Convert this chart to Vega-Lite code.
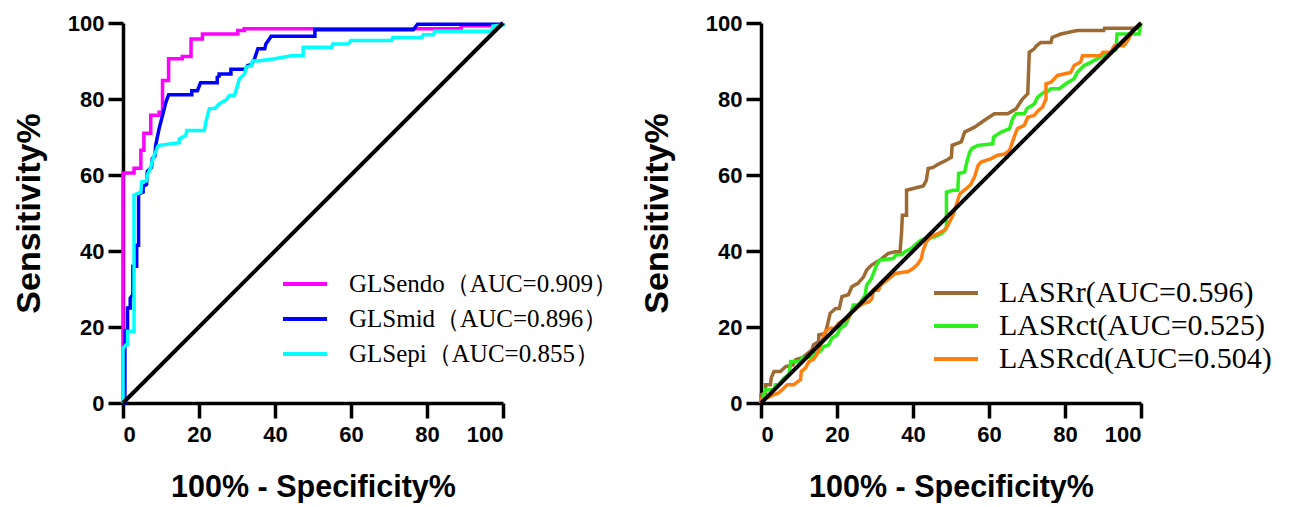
{
  "$schema": "https://vega.github.io/schema/vega-lite/v6.json",
  "background": "white",
  "padding": {"left": 12, "top": 12, "right": 0, "bottom": 0},
  "datasets": {
    "left": [
      {"s":"GLSendo（AUC=0.909）","x":0,"y":0},{"s":"GLSendo（AUC=0.909）","x":0,"y":60.5},{"s":"GLSendo（AUC=0.909）","x":2.9,"y":60.5},{"s":"GLSendo（AUC=0.909）","x":2.9,"y":61.8},{"s":"GLSendo（AUC=0.909）","x":4.7,"y":61.8},{"s":"GLSendo（AUC=0.909）","x":4.7,"y":66.5},{"s":"GLSendo（AUC=0.909）","x":5.5,"y":66.5},{"s":"GLSendo（AUC=0.909）","x":5.5,"y":71},{"s":"GLSendo（AUC=0.909）","x":7.3,"y":71},{"s":"GLSendo（AUC=0.909）","x":7.3,"y":75.7},{"s":"GLSendo（AUC=0.909）","x":9.5,"y":75.7},{"s":"GLSendo（AUC=0.909）","x":9.5,"y":76.5},{"s":"GLSendo（AUC=0.909）","x":10.4,"y":76.5},{"s":"GLSendo（AUC=0.909）","x":10.4,"y":84.9},{"s":"GLSendo（AUC=0.909）","x":12,"y":84.9},{"s":"GLSendo（AUC=0.909）","x":12,"y":90.6},{"s":"GLSendo（AUC=0.909）","x":15.6,"y":90.6},{"s":"GLSendo（AUC=0.909）","x":15.6,"y":91.2},{"s":"GLSendo（AUC=0.909）","x":17.9,"y":91.2},{"s":"GLSendo（AUC=0.909）","x":17.9,"y":95.8},{"s":"GLSendo（AUC=0.909）","x":20.9,"y":95.8},{"s":"GLSendo（AUC=0.909）","x":20.9,"y":97.1},{"s":"GLSendo（AUC=0.909）","x":30.2,"y":97.1},{"s":"GLSendo（AUC=0.909）","x":30.2,"y":98},{"s":"GLSendo（AUC=0.909）","x":31.9,"y":98},{"s":"GLSendo（AUC=0.909）","x":31.9,"y":98.5},{"s":"GLSendo（AUC=0.909）","x":89,"y":98.5},{"s":"GLSendo（AUC=0.909）","x":89,"y":99.3},{"s":"GLSendo（AUC=0.909）","x":99,"y":99.3},{"s":"GLSendo（AUC=0.909）","x":100,"y":100},
      {"s":"GLSmid（AUC=0.896）","x":0,"y":0},{"s":"GLSmid（AUC=0.896）","x":0.5,"y":0},{"s":"GLSmid（AUC=0.896）","x":0.5,"y":19},{"s":"GLSmid（AUC=0.896）","x":1.2,"y":19},{"s":"GLSmid（AUC=0.896）","x":1.2,"y":25},{"s":"GLSmid（AUC=0.896）","x":1.9,"y":25},{"s":"GLSmid（AUC=0.896）","x":1.9,"y":27.6},{"s":"GLSmid（AUC=0.896）","x":2.6,"y":28.5},{"s":"GLSmid（AUC=0.896）","x":2.6,"y":36},{"s":"GLSmid（AUC=0.896）","x":3.6,"y":36},{"s":"GLSmid（AUC=0.896）","x":3.6,"y":41.5},{"s":"GLSmid（AUC=0.896）","x":4.1,"y":41.5},{"s":"GLSmid（AUC=0.896）","x":4.1,"y":55},{"s":"GLSmid（AUC=0.896）","x":5.3,"y":55.5},{"s":"GLSmid（AUC=0.896）","x":5.3,"y":57},{"s":"GLSmid（AUC=0.896）","x":6.2,"y":57.5},{"s":"GLSmid（AUC=0.896）","x":6.4,"y":61},{"s":"GLSmid（AUC=0.896）","x":7.5,"y":62},{"s":"GLSmid（AUC=0.896）","x":7.7,"y":64.3},{"s":"GLSmid（AUC=0.896）","x":8.4,"y":65},{"s":"GLSmid（AUC=0.896）","x":8.6,"y":67.8},{"s":"GLSmid（AUC=0.896）","x":9.5,"y":72.2},{"s":"GLSmid（AUC=0.896）","x":10.4,"y":75.7},{"s":"GLSmid（AUC=0.896）","x":11.3,"y":79.2},{"s":"GLSmid（AUC=0.896）","x":12,"y":81.1},{"s":"GLSmid（AUC=0.896）","x":18.1,"y":81.1},{"s":"GLSmid（AUC=0.896）","x":18.1,"y":82.2},{"s":"GLSmid（AUC=0.896）","x":19.6,"y":82.2},{"s":"GLSmid（AUC=0.896）","x":20.4,"y":84.3},{"s":"GLSmid（AUC=0.896）","x":24.8,"y":84.3},{"s":"GLSmid（AUC=0.896）","x":24.8,"y":85.7},{"s":"GLSmid（AUC=0.896）","x":25.3,"y":86},{"s":"GLSmid（AUC=0.896）","x":25.3,"y":86.6},{"s":"GLSmid（AUC=0.896）","x":28.4,"y":86.6},{"s":"GLSmid（AUC=0.896）","x":28.4,"y":87.8},{"s":"GLSmid（AUC=0.896）","x":32.2,"y":87.8},{"s":"GLSmid（AUC=0.896）","x":32.8,"y":88.8},{"s":"GLSmid（AUC=0.896）","x":33.8,"y":89},{"s":"GLSmid（AUC=0.896）","x":34.6,"y":90.6},{"s":"GLSmid（AUC=0.896）","x":35.5,"y":93.2},{"s":"GLSmid（AUC=0.896）","x":37.3,"y":93.2},{"s":"GLSmid（AUC=0.896）","x":37.6,"y":94.5},{"s":"GLSmid（AUC=0.896）","x":39,"y":96.5},{"s":"GLSmid（AUC=0.896）","x":50.5,"y":96.5},{"s":"GLSmid（AUC=0.896）","x":50.5,"y":98.2},{"s":"GLSmid（AUC=0.896）","x":76.4,"y":98.2},{"s":"GLSmid（AUC=0.896）","x":77.5,"y":99.7},{"s":"GLSmid（AUC=0.896）","x":100,"y":99.7},{"s":"GLSmid（AUC=0.896）","x":100,"y":100},
      {"s":"GLSepi（AUC=0.855）","x":0,"y":0},{"s":"GLSepi（AUC=0.855）","x":0,"y":14.4},{"s":"GLSepi（AUC=0.855）","x":0.8,"y":15.3},{"s":"GLSepi（AUC=0.855）","x":1.2,"y":15.3},{"s":"GLSepi（AUC=0.855）","x":1.2,"y":18.9},{"s":"GLSepi（AUC=0.855）","x":2.9,"y":18.9},{"s":"GLSepi（AUC=0.855）","x":2.9,"y":54.7},{"s":"GLSepi（AUC=0.855）","x":4.7,"y":55.5},{"s":"GLSepi（AUC=0.855）","x":4.9,"y":58.2},{"s":"GLSepi（AUC=0.855）","x":6.2,"y":58.5},{"s":"GLSepi（AUC=0.855）","x":6.4,"y":60},{"s":"GLSepi（AUC=0.855）","x":7.3,"y":62},{"s":"GLSepi（AUC=0.855）","x":7.5,"y":63},{"s":"GLSepi（AUC=0.855）","x":8.2,"y":65.2},{"s":"GLSepi（AUC=0.855）","x":8.6,"y":66},{"s":"GLSepi（AUC=0.855）","x":9.1,"y":67.5},{"s":"GLSepi（AUC=0.855）","x":9.5,"y":67.8},{"s":"GLSepi（AUC=0.855）","x":14.8,"y":68.5},{"s":"GLSepi（AUC=0.855）","x":14.8,"y":69.5},{"s":"GLSepi（AUC=0.855）","x":16.5,"y":70.4},{"s":"GLSepi（AUC=0.855）","x":16.8,"y":71.7},{"s":"GLSepi（AUC=0.855）","x":21.4,"y":71.7},{"s":"GLSepi（AUC=0.855）","x":21.8,"y":73.9},{"s":"GLSepi（AUC=0.855）","x":22.7,"y":77.4},{"s":"GLSepi（AUC=0.855）","x":24.3,"y":77.6},{"s":"GLSepi（AUC=0.855）","x":25.3,"y":78.7},{"s":"GLSepi（AUC=0.855）","x":27.2,"y":79.8},{"s":"GLSepi（AUC=0.855）","x":28,"y":80.9},{"s":"GLSepi（AUC=0.855）","x":29.3,"y":80.9},{"s":"GLSepi（AUC=0.855）","x":30,"y":83},{"s":"GLSepi（AUC=0.855）","x":30.6,"y":85.3},{"s":"GLSepi（AUC=0.855）","x":32,"y":86.6},{"s":"GLSepi（AUC=0.855）","x":32.4,"y":88.4},{"s":"GLSepi（AUC=0.855）","x":33.8,"y":88.8},{"s":"GLSepi（AUC=0.855）","x":34.1,"y":90.1},{"s":"GLSepi（AUC=0.855）","x":35.5,"y":90},{"s":"GLSepi（AUC=0.855）","x":39.9,"y":90.6},{"s":"GLSepi（AUC=0.855）","x":44.3,"y":91.4},{"s":"GLSepi（AUC=0.855）","x":47.4,"y":91.4},{"s":"GLSepi（AUC=0.855）","x":47.4,"y":93.6},{"s":"GLSepi（AUC=0.855）","x":54.9,"y":93.6},{"s":"GLSepi（AUC=0.855）","x":55.2,"y":94.5},{"s":"GLSepi（AUC=0.855）","x":59.3,"y":94.5},{"s":"GLSepi（AUC=0.855）","x":60,"y":95.4},{"s":"GLSepi（AUC=0.855）","x":70.7,"y":95.4},{"s":"GLSepi（AUC=0.855）","x":71,"y":96.2},{"s":"GLSepi（AUC=0.855）","x":78.6,"y":96.2},{"s":"GLSepi（AUC=0.855）","x":79,"y":96.9},{"s":"GLSepi（AUC=0.855）","x":81.7,"y":96.9},{"s":"GLSepi（AUC=0.855）","x":82,"y":97.8},{"s":"GLSepi（AUC=0.855）","x":97.1,"y":97.8},{"s":"GLSepi（AUC=0.855）","x":97.3,"y":99.2},{"s":"GLSepi（AUC=0.855）","x":100,"y":99.5},{"s":"GLSepi（AUC=0.855）","x":100,"y":100}
    ],
    "right": [
      {"s":"LASRr(AUC=0.596)","x":0,"y":0},{"s":"LASRr(AUC=0.596)","x":0,"y":2.2},{"s":"LASRr(AUC=0.596)","x":1.2,"y":2.6},{"s":"LASRr(AUC=0.596)","x":1.2,"y":4.8},{"s":"LASRr(AUC=0.596)","x":2.5,"y":4.8},{"s":"LASRr(AUC=0.596)","x":2.7,"y":6.6},{"s":"LASRr(AUC=0.596)","x":3.4,"y":8.3},{"s":"LASRr(AUC=0.596)","x":5.1,"y":8.3},{"s":"LASRr(AUC=0.596)","x":6.5,"y":9.6},{"s":"LASRr(AUC=0.596)","x":8.4,"y":10},{"s":"LASRr(AUC=0.596)","x":9.1,"y":11.4},{"s":"LASRr(AUC=0.596)","x":11,"y":12},{"s":"LASRr(AUC=0.596)","x":13.4,"y":14},{"s":"LASRr(AUC=0.596)","x":13.8,"y":15.3},{"s":"LASRr(AUC=0.596)","x":15.2,"y":16.2},{"s":"LASRr(AUC=0.596)","x":15.2,"y":17.9},{"s":"LASRr(AUC=0.596)","x":16.9,"y":18.3},{"s":"LASRr(AUC=0.596)","x":17.6,"y":21},{"s":"LASRr(AUC=0.596)","x":18.2,"y":23.6},{"s":"LASRr(AUC=0.596)","x":19.6,"y":24.9},{"s":"LASRr(AUC=0.596)","x":20.6,"y":24.9},{"s":"LASRr(AUC=0.596)","x":21.3,"y":28},{"s":"LASRr(AUC=0.596)","x":23,"y":28.5},{"s":"LASRr(AUC=0.596)","x":23.9,"y":30.6},{"s":"LASRr(AUC=0.596)","x":25.5,"y":31.5},{"s":"LASRr(AUC=0.596)","x":27,"y":33.2},{"s":"LASRr(AUC=0.596)","x":27.8,"y":35},{"s":"LASRr(AUC=0.596)","x":29.1,"y":36.3},{"s":"LASRr(AUC=0.596)","x":31.3,"y":37.6},{"s":"LASRr(AUC=0.596)","x":33.5,"y":39.4},{"s":"LASRr(AUC=0.596)","x":35.3,"y":39.8},{"s":"LASRr(AUC=0.596)","x":36.6,"y":39.8},{"s":"LASRr(AUC=0.596)","x":37,"y":45},{"s":"LASRr(AUC=0.596)","x":37.2,"y":49.4},{"s":"LASRr(AUC=0.596)","x":38.3,"y":49.4},{"s":"LASRr(AUC=0.596)","x":38.3,"y":56},{"s":"LASRr(AUC=0.596)","x":42.7,"y":57.1},{"s":"LASRr(AUC=0.596)","x":43.5,"y":58.6},{"s":"LASRr(AUC=0.596)","x":44,"y":61.7},{"s":"LASRr(AUC=0.596)","x":45.3,"y":62},{"s":"LASRr(AUC=0.596)","x":46.6,"y":62.8},{"s":"LASRr(AUC=0.596)","x":49,"y":64},{"s":"LASRr(AUC=0.596)","x":50.1,"y":64.7},{"s":"LASRr(AUC=0.596)","x":50.3,"y":67.8},{"s":"LASRr(AUC=0.596)","x":52.7,"y":68.7},{"s":"LASRr(AUC=0.596)","x":53.6,"y":71.3},{"s":"LASRr(AUC=0.596)","x":56.2,"y":72.6},{"s":"LASRr(AUC=0.596)","x":58.8,"y":74.4},{"s":"LASRr(AUC=0.596)","x":61.4,"y":76.1},{"s":"LASRr(AUC=0.596)","x":64.9,"y":76.1},{"s":"LASRr(AUC=0.596)","x":67.1,"y":77.4},{"s":"LASRr(AUC=0.596)","x":68.8,"y":80},{"s":"LASRr(AUC=0.596)","x":70.2,"y":81.4},{"s":"LASRr(AUC=0.596)","x":70.6,"y":92.3},{"s":"LASRr(AUC=0.596)","x":71.9,"y":93.2},{"s":"LASRr(AUC=0.596)","x":72.5,"y":94},{"s":"LASRr(AUC=0.596)","x":73.6,"y":94.9},{"s":"LASRr(AUC=0.596)","x":76.3,"y":94.9},{"s":"LASRr(AUC=0.596)","x":76.6,"y":96.2},{"s":"LASRr(AUC=0.596)","x":78.9,"y":97.1},{"s":"LASRr(AUC=0.596)","x":83.2,"y":98},{"s":"LASRr(AUC=0.596)","x":90.2,"y":98},{"s":"LASRr(AUC=0.596)","x":90.4,"y":98.6},{"s":"LASRr(AUC=0.596)","x":99,"y":98.6},{"s":"LASRr(AUC=0.596)","x":100,"y":100},
      {"s":"LASRct(AUC=0.525)","x":0,"y":0},{"s":"LASRct(AUC=0.525)","x":0.3,"y":0.9},{"s":"LASRct(AUC=0.525)","x":1.2,"y":3.5},{"s":"LASRct(AUC=0.525)","x":3.4,"y":3.5},{"s":"LASRct(AUC=0.525)","x":3.8,"y":4.8},{"s":"LASRct(AUC=0.525)","x":4.7,"y":4.8},{"s":"LASRct(AUC=0.525)","x":6,"y":6.5},{"s":"LASRct(AUC=0.525)","x":7.4,"y":7.5},{"s":"LASRct(AUC=0.525)","x":7.8,"y":10.9},{"s":"LASRct(AUC=0.525)","x":10.4,"y":10.9},{"s":"LASRct(AUC=0.525)","x":10.8,"y":11.8},{"s":"LASRct(AUC=0.525)","x":13.9,"y":12.2},{"s":"LASRct(AUC=0.525)","x":14.3,"y":13},{"s":"LASRct(AUC=0.525)","x":15.6,"y":13.6},{"s":"LASRct(AUC=0.525)","x":16.5,"y":14.8},{"s":"LASRct(AUC=0.525)","x":17.8,"y":15.3},{"s":"LASRct(AUC=0.525)","x":18.7,"y":17.1},{"s":"LASRct(AUC=0.525)","x":20,"y":17.9},{"s":"LASRct(AUC=0.525)","x":20.9,"y":19.7},{"s":"LASRct(AUC=0.525)","x":22.2,"y":20.5},{"s":"LASRct(AUC=0.525)","x":23.5,"y":23.2},{"s":"LASRct(AUC=0.525)","x":24.3,"y":25.8},{"s":"LASRct(AUC=0.525)","x":25.7,"y":25.8},{"s":"LASRct(AUC=0.525)","x":26.5,"y":27},{"s":"LASRct(AUC=0.525)","x":27.4,"y":28.4},{"s":"LASRct(AUC=0.525)","x":27.8,"y":31},{"s":"LASRct(AUC=0.525)","x":29.1,"y":32.8},{"s":"LASRct(AUC=0.525)","x":30.4,"y":36.3},{"s":"LASRct(AUC=0.525)","x":31.3,"y":37.6},{"s":"LASRct(AUC=0.525)","x":34.8,"y":38},{"s":"LASRct(AUC=0.525)","x":35.5,"y":39},{"s":"LASRct(AUC=0.525)","x":37,"y":39},{"s":"LASRct(AUC=0.525)","x":37.9,"y":39.8},{"s":"LASRct(AUC=0.525)","x":39.6,"y":40.7},{"s":"LASRct(AUC=0.525)","x":41,"y":42},{"s":"LASRct(AUC=0.525)","x":42.2,"y":42.9},{"s":"LASRct(AUC=0.525)","x":45.7,"y":43.7},{"s":"LASRct(AUC=0.525)","x":47.5,"y":44.6},{"s":"LASRct(AUC=0.525)","x":48.8,"y":45.9},{"s":"LASRct(AUC=0.525)","x":48.8,"y":55.5},{"s":"LASRct(AUC=0.525)","x":50.5,"y":56},{"s":"LASRct(AUC=0.525)","x":51.8,"y":56},{"s":"LASRct(AUC=0.525)","x":52,"y":60.4},{"s":"LASRct(AUC=0.525)","x":53.6,"y":60.8},{"s":"LASRct(AUC=0.525)","x":54.2,"y":63.5},{"s":"LASRct(AUC=0.525)","x":54.9,"y":66},{"s":"LASRct(AUC=0.525)","x":55.5,"y":67},{"s":"LASRct(AUC=0.525)","x":57.1,"y":67.8},{"s":"LASRct(AUC=0.525)","x":61,"y":68.2},{"s":"LASRct(AUC=0.525)","x":61.2,"y":70},{"s":"LASRct(AUC=0.525)","x":63.2,"y":71.3},{"s":"LASRct(AUC=0.525)","x":65.4,"y":72.2},{"s":"LASRct(AUC=0.525)","x":66.2,"y":74.8},{"s":"LASRct(AUC=0.525)","x":67.1,"y":76.1},{"s":"LASRct(AUC=0.525)","x":69.3,"y":76.1},{"s":"LASRct(AUC=0.525)","x":70,"y":77.5},{"s":"LASRct(AUC=0.525)","x":71.9,"y":78.7},{"s":"LASRct(AUC=0.525)","x":72.8,"y":80.5},{"s":"LASRct(AUC=0.525)","x":74.5,"y":81.8},{"s":"LASRct(AUC=0.525)","x":75.4,"y":82},{"s":"LASRct(AUC=0.525)","x":76.3,"y":82.7},{"s":"LASRct(AUC=0.525)","x":78.5,"y":82.7},{"s":"LASRct(AUC=0.525)","x":80.2,"y":84},{"s":"LASRct(AUC=0.525)","x":82.4,"y":85.3},{"s":"LASRct(AUC=0.525)","x":83.2,"y":87},{"s":"LASRct(AUC=0.525)","x":85,"y":88.8},{"s":"LASRct(AUC=0.525)","x":86.5,"y":89.5},{"s":"LASRct(AUC=0.525)","x":88.5,"y":90.6},{"s":"LASRct(AUC=0.525)","x":92,"y":92.3},{"s":"LASRct(AUC=0.525)","x":93.4,"y":93},{"s":"LASRct(AUC=0.525)","x":93.7,"y":97.1},{"s":"LASRct(AUC=0.525)","x":99.5,"y":97.1},{"s":"LASRct(AUC=0.525)","x":100,"y":100},
      {"s":"LASRcd(AUC=0.504)","x":0,"y":0},{"s":"LASRcd(AUC=0.504)","x":0,"y":0.9},{"s":"LASRcd(AUC=0.504)","x":2,"y":1.5},{"s":"LASRcd(AUC=0.504)","x":3.4,"y":2.2},{"s":"LASRcd(AUC=0.504)","x":4.5,"y":2.6},{"s":"LASRcd(AUC=0.504)","x":5.6,"y":3.5},{"s":"LASRcd(AUC=0.504)","x":6.9,"y":4.8},{"s":"LASRcd(AUC=0.504)","x":8.6,"y":4.8},{"s":"LASRcd(AUC=0.504)","x":9.5,"y":5.5},{"s":"LASRcd(AUC=0.504)","x":10.4,"y":6.1},{"s":"LASRcd(AUC=0.504)","x":10.6,"y":8.3},{"s":"LASRcd(AUC=0.504)","x":11.7,"y":9.2},{"s":"LASRcd(AUC=0.504)","x":12.6,"y":10.9},{"s":"LASRcd(AUC=0.504)","x":13.8,"y":11.5},{"s":"LASRcd(AUC=0.504)","x":14.7,"y":12.7},{"s":"LASRcd(AUC=0.504)","x":15.4,"y":14.5},{"s":"LASRcd(AUC=0.504)","x":16,"y":16.2},{"s":"LASRcd(AUC=0.504)","x":16.9,"y":18.8},{"s":"LASRcd(AUC=0.504)","x":18.2,"y":19.7},{"s":"LASRcd(AUC=0.504)","x":19.5,"y":19.7},{"s":"LASRcd(AUC=0.504)","x":20.4,"y":21},{"s":"LASRcd(AUC=0.504)","x":21.3,"y":21.5},{"s":"LASRcd(AUC=0.504)","x":23,"y":22.3},{"s":"LASRcd(AUC=0.504)","x":23.5,"y":23.6},{"s":"LASRcd(AUC=0.504)","x":25.7,"y":25.4},{"s":"LASRcd(AUC=0.504)","x":27,"y":26.2},{"s":"LASRcd(AUC=0.504)","x":28.4,"y":26.6},{"s":"LASRcd(AUC=0.504)","x":29.2,"y":27.5},{"s":"LASRcd(AUC=0.504)","x":29.6,"y":29.7},{"s":"LASRcd(AUC=0.504)","x":30.9,"y":29.7},{"s":"LASRcd(AUC=0.504)","x":31.5,"y":31},{"s":"LASRcd(AUC=0.504)","x":32.6,"y":31.9},{"s":"LASRcd(AUC=0.504)","x":34,"y":33},{"s":"LASRcd(AUC=0.504)","x":35.3,"y":34.1},{"s":"LASRcd(AUC=0.504)","x":38.7,"y":34.6},{"s":"LASRcd(AUC=0.504)","x":40,"y":35.4},{"s":"LASRcd(AUC=0.504)","x":41.2,"y":36.5},{"s":"LASRcd(AUC=0.504)","x":42.2,"y":38},{"s":"LASRcd(AUC=0.504)","x":42.6,"y":40},{"s":"LASRcd(AUC=0.504)","x":43.5,"y":42.4},{"s":"LASRcd(AUC=0.504)","x":44.5,"y":43.5},{"s":"LASRcd(AUC=0.504)","x":45.7,"y":44.2},{"s":"LASRcd(AUC=0.504)","x":47,"y":44.8},{"s":"LASRcd(AUC=0.504)","x":48.3,"y":45.5},{"s":"LASRcd(AUC=0.504)","x":49.2,"y":46.8},{"s":"LASRcd(AUC=0.504)","x":50.5,"y":49.4},{"s":"LASRcd(AUC=0.504)","x":51.8,"y":53.4},{"s":"LASRcd(AUC=0.504)","x":52.3,"y":55},{"s":"LASRcd(AUC=0.504)","x":54,"y":56.4},{"s":"LASRcd(AUC=0.504)","x":55.2,"y":57.5},{"s":"LASRcd(AUC=0.504)","x":56.2,"y":59.5},{"s":"LASRcd(AUC=0.504)","x":57.1,"y":62.5},{"s":"LASRcd(AUC=0.504)","x":57.9,"y":63.4},{"s":"LASRcd(AUC=0.504)","x":60.6,"y":64.3},{"s":"LASRcd(AUC=0.504)","x":62.3,"y":65.2},{"s":"LASRcd(AUC=0.504)","x":64.1,"y":65.5},{"s":"LASRcd(AUC=0.504)","x":65.4,"y":66.5},{"s":"LASRcd(AUC=0.504)","x":66.2,"y":68.8},{"s":"LASRcd(AUC=0.504)","x":66.9,"y":70.8},{"s":"LASRcd(AUC=0.504)","x":67.5,"y":72.2},{"s":"LASRcd(AUC=0.504)","x":69.3,"y":73.1},{"s":"LASRcd(AUC=0.504)","x":70.2,"y":75.2},{"s":"LASRcd(AUC=0.504)","x":71.9,"y":75.7},{"s":"LASRcd(AUC=0.504)","x":73,"y":77},{"s":"LASRcd(AUC=0.504)","x":74.1,"y":77.9},{"s":"LASRcd(AUC=0.504)","x":75,"y":80},{"s":"LASRcd(AUC=0.504)","x":75,"y":84},{"s":"LASRcd(AUC=0.504)","x":76.3,"y":84.4},{"s":"LASRcd(AUC=0.504)","x":77.2,"y":85.3},{"s":"LASRcd(AUC=0.504)","x":78,"y":86.2},{"s":"LASRcd(AUC=0.504)","x":81.5,"y":87},{"s":"LASRcd(AUC=0.504)","x":82.4,"y":88.8},{"s":"LASRcd(AUC=0.504)","x":84.1,"y":89.7},{"s":"LASRcd(AUC=0.504)","x":84.6,"y":91.4},{"s":"LASRcd(AUC=0.504)","x":89.3,"y":91.4},{"s":"LASRcd(AUC=0.504)","x":90,"y":92.3},{"s":"LASRcd(AUC=0.504)","x":92,"y":92.3},{"s":"LASRcd(AUC=0.504)","x":93,"y":94},{"s":"LASRcd(AUC=0.504)","x":95.5,"y":94},{"s":"LASRcd(AUC=0.504)","x":96.2,"y":95},{"s":"LASRcd(AUC=0.504)","x":96.8,"y":95.8},{"s":"LASRcd(AUC=0.504)","x":97.5,"y":97.5},{"s":"LASRcd(AUC=0.504)","x":100,"y":100}
    ],
    "diag": [{"x":0,"y":0},{"x":100,"y":100}]
  },
  "config": {
    "view": {"stroke": null},
    "axis": {
      "grid": false,
      "domainColor": "black", "domainWidth": 3.5,
      "tickColor": "black", "tickWidth": 3.5, "tickSize": 15,
      "labelFont": "Liberation Sans", "labelFontWeight": "bold", "labelFontSize": 22, "labelColor": "black",
      "titleFont": "Liberation Sans", "titleFontWeight": "bold", "titleColor": "black"
    },
    "axisX": {"labelPadding": 6, "titleFontSize": 30.5, "titlePadding": 27},
    "axisY": {"labelPadding": 4, "titleFontSize": 34, "titlePadding": 21},
    "legend": {
      "orient": "none", "title": null, "padding": 0,
      "symbolType": "M-2,0H2", "symbolSize": 484, "symbolStrokeWidth": 4,
      "labelFont": "Liberation Serif", "labelColor": "black", "labelLimit": 500
    }
  },
  "spacing": 22,
  "resolve": {"scale": {"color": "independent"}, "legend": {"color": "independent"}},
  "hconcat": [
    {
      "width": 380, "height": 380,
      "layer": [
        {
          "data": {"name": "left"},
          "mark": {"type": "line", "strokeWidth": 3.5},
          "encoding": {
            "x": {"field": "x", "type": "quantitative", "scale": {"domain": [0, 100]}, "axis": {"values": [0,20,40,60,80,100], "title": "100% - Specificity%"}},
            "y": {"field": "y", "type": "quantitative", "scale": {"domain": [0, 100]}, "axis": {"values": [0,20,40,60,80,100], "title": "Sensitivity%"}},
            "color": {"field": "s", "type": "nominal",
              "scale": {"domain": ["GLSendo（AUC=0.909）", "GLSmid（AUC=0.896）", "GLSepi（AUC=0.855）"], "range": ["#ff00ff", "#0000ff", "#00ffff"]},
              "legend": {"legendX": 169, "legendY": 248, "labelFontSize": 25, "labelOffset": 31, "rowPadding": 9}},
            "order": {"value": null}
          }
        },
        {
          "data": {"name": "diag"},
          "mark": {"type": "line", "color": "black", "strokeWidth": 4},
          "encoding": {
            "x": {"field": "x", "type": "quantitative"},
            "y": {"field": "y", "type": "quantitative"}
          }
        }
      ]
    },
    {
      "width": 380, "height": 380,
      "layer": [
        {
          "data": {"name": "right"},
          "mark": {"type": "line", "strokeWidth": 3.5},
          "encoding": {
            "x": {"field": "x", "type": "quantitative", "scale": {"domain": [0, 100]}, "axis": {"values": [0,20,40,60,80,100], "title": "100% - Specificity%"}},
            "y": {"field": "y", "type": "quantitative", "scale": {"domain": [0, 100]}, "axis": {"values": [0,20,40,60,80,100], "title": "Sensitivity%", "titlePadding": 31}},
            "color": {"field": "s", "type": "nominal",
              "scale": {"domain": ["LASRr(AUC=0.596)", "LASRct(AUC=0.525)", "LASRcd(AUC=0.504)"], "range": ["#9e6a33", "#2cf01c", "#ff7f0e"]},
              "legend": {"legendX": 180, "legendY": 255, "labelFontSize": 30, "labelOffset": 28, "rowPadding": 3}},
            "order": {"value": null}
          }
        },
        {
          "data": {"name": "diag"},
          "mark": {"type": "line", "color": "black", "strokeWidth": 4},
          "encoding": {
            "x": {"field": "x", "type": "quantitative"},
            "y": {"field": "y", "type": "quantitative"}
          }
        }
      ]
    }
  ]
}
